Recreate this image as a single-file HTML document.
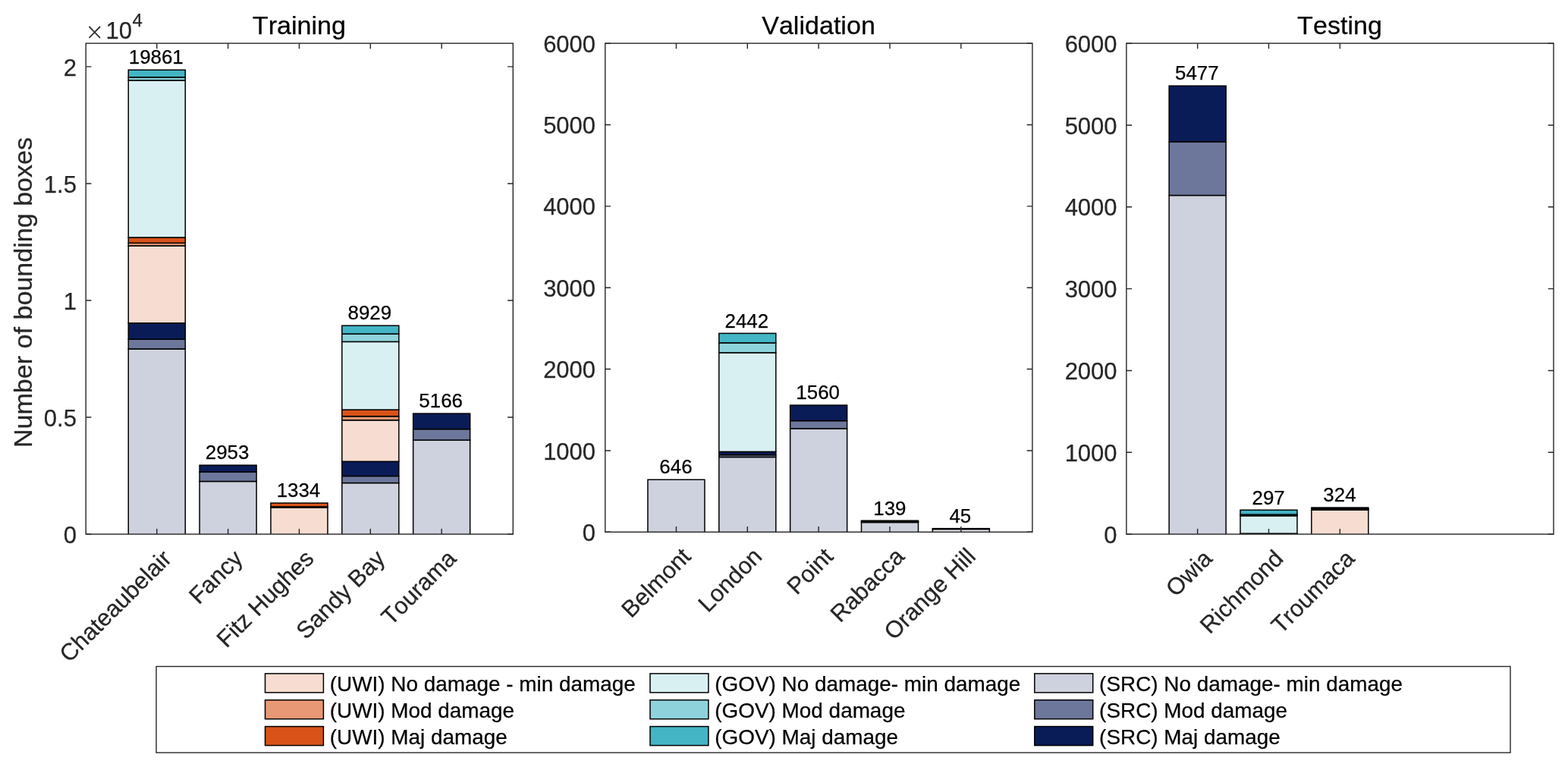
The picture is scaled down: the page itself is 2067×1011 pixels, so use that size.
<!DOCTYPE html>
<html lang="en">
<head>
<meta charset="utf-8">
<title>Number of bounding boxes: Training, Validation, Testing</title>
<style>
html,body{margin:0;padding:0;background:#fff;}
body{width:2067px;height:1011px;overflow:hidden;}
svg{display:block;}
text{white-space:pre;font-kerning:none;font-variant-ligatures:none;stroke-width:0.25px;stroke-linejoin:round;}
text[fill="#000"]{stroke:#000;}
text[fill="#262626"]{stroke:#262626;}
</style>
</head>
<body>
<svg width="2067" height="1011" viewBox="0 0 2067 1011" font-family='"Liberation Sans", sans-serif'>
<rect width="2067" height="1011" fill="#fff"/>
<path d="M169.25 704.1V459.9H244.25V704.1" fill="#CED2DE" stroke="#000" stroke-width="1.5"/>
<rect x="169.25" y="447.2" width="75" height="12.7" fill="#6C779B" stroke="#000" stroke-width="1.5"/>
<rect x="169.25" y="425.85" width="75" height="21.35" fill="#091C58" stroke="#000" stroke-width="1.5"/>
<rect x="169.25" y="323.95" width="75" height="101.9" fill="#F7DDD1" stroke="#000" stroke-width="1.5"/>
<rect x="169.25" y="320.3" width="75" height="3.65" fill="#E89875" stroke="#000" stroke-width="1.5"/>
<rect x="169.25" y="313" width="75" height="7.3" fill="#D95319" stroke="#000" stroke-width="1.5"/>
<rect x="169.25" y="105.9" width="75" height="207.1" fill="#D9F0F3" stroke="#000" stroke-width="1.5"/>
<rect x="169.25" y="101.8" width="75" height="4.1" fill="#8ED3DB" stroke="#000" stroke-width="1.5"/>
<rect x="169.25" y="92.2" width="75" height="9.6" fill="#43B5C5" stroke="#000" stroke-width="1.5"/>
<text x="205.75" y="84.45" font-size="25.9" fill="#000" text-anchor="middle">19861</text>
<path d="M263.1 704.1V634.5H338.1V704.1" fill="#CED2DE" stroke="#000" stroke-width="1.5"/>
<rect x="263.1" y="622" width="75" height="12.5" fill="#6C779B" stroke="#000" stroke-width="1.5"/>
<rect x="263.1" y="613.2" width="75" height="8.8" fill="#091C58" stroke="#000" stroke-width="1.5"/>
<text x="299.6" y="605.45" font-size="25.9" fill="#000" text-anchor="middle">2953</text>
<path d="M356.95 704.1V668.9H431.95V704.1" fill="#F7DDD1" stroke="#000" stroke-width="1.5"/>
<rect x="356.95" y="667.9" width="75" height="1" fill="#E89875" stroke="#000" stroke-width="1.5"/>
<rect x="356.95" y="663.1" width="75" height="4.8" fill="#D95319" stroke="#000" stroke-width="1.5"/>
<text x="393.45" y="655.35" font-size="25.9" fill="#000" text-anchor="middle">1334</text>
<path d="M450.8 704.1V636.6H525.8V704.1" fill="#CED2DE" stroke="#000" stroke-width="1.5"/>
<rect x="450.8" y="627.5" width="75" height="9.1" fill="#6C779B" stroke="#000" stroke-width="1.5"/>
<rect x="450.8" y="608.3" width="75" height="19.2" fill="#091C58" stroke="#000" stroke-width="1.5"/>
<rect x="450.8" y="553.8" width="75" height="54.5" fill="#F7DDD1" stroke="#000" stroke-width="1.5"/>
<rect x="450.8" y="548.7" width="75" height="5.1" fill="#E89875" stroke="#000" stroke-width="1.5"/>
<rect x="450.8" y="540.1" width="75" height="8.6" fill="#D95319" stroke="#000" stroke-width="1.5"/>
<rect x="450.8" y="450.4" width="75" height="89.7" fill="#D9F0F3" stroke="#000" stroke-width="1.5"/>
<rect x="450.8" y="440.1" width="75" height="10.3" fill="#8ED3DB" stroke="#000" stroke-width="1.5"/>
<rect x="450.8" y="429.2" width="75" height="10.9" fill="#43B5C5" stroke="#000" stroke-width="1.5"/>
<text x="487.3" y="421.45" font-size="25.9" fill="#000" text-anchor="middle">8929</text>
<path d="M544.65 704.1V580.1H619.65V704.1" fill="#CED2DE" stroke="#000" stroke-width="1.5"/>
<rect x="544.65" y="565.6" width="75" height="14.5" fill="#6C779B" stroke="#000" stroke-width="1.5"/>
<rect x="544.65" y="545.1" width="75" height="20.5" fill="#091C58" stroke="#000" stroke-width="1.5"/>
<text x="581.15" y="537.35" font-size="25.9" fill="#000" text-anchor="middle">5166</text>
<rect x="113.2" y="57.1" width="563.1" height="647" fill="none" stroke="#262626" stroke-width="1.4"/>
<path d="M206.75 704.1v-7.2M206.75 57.1v7.2M300.6 704.1v-7.2M300.6 57.1v7.2M394.45 704.1v-7.2M394.45 57.1v7.2M488.3 704.1v-7.2M488.3 57.1v7.2M582.15 704.1v-7.2M582.15 57.1v7.2M113.2 704.1h7.2M676.3 704.1h-7.2M113.2 550.05h7.2M676.3 550.05h-7.2M113.2 396h7.2M676.3 396h-7.2M113.2 241.96h7.2M676.3 241.96h-7.2M113.2 87.91h7.2M676.3 87.91h-7.2" stroke="#262626" stroke-width="1.4" fill="none"/>
<text x="100.9" y="715.7" font-size="31.0" fill="#262626" text-anchor="end">0</text>
<text x="100.9" y="561.65" font-size="31.0" fill="#262626" text-anchor="end">0.5</text>
<text x="100.9" y="407.6" font-size="31.0" fill="#262626" text-anchor="end">1</text>
<text x="100.9" y="253.56" font-size="31.0" fill="#262626" text-anchor="end">1.5</text>
<text x="100.9" y="99.51" font-size="31.0" fill="#262626" text-anchor="end">2</text>
<text x="394.4" y="45.3" font-size="34.1" fill="#000" text-anchor="middle">Training</text>
<text transform="translate(227.75 738.1) rotate(-45)" font-size="31.0" fill="#262626" text-anchor="end">Chateaubelair</text>
<text transform="translate(321.6 738.1) rotate(-45)" font-size="31.0" fill="#262626" text-anchor="end">Fancy</text>
<text transform="translate(415.45 738.1) rotate(-45)" font-size="31.0" fill="#262626" text-anchor="end">Fitz Hughes</text>
<text transform="translate(509.3 738.1) rotate(-45)" font-size="31.0" fill="#262626" text-anchor="end">Sandy Bay</text>
<text transform="translate(603.15 738.1) rotate(-45)" font-size="31.0" fill="#262626" text-anchor="end">Tourama</text>
<text x="112.3" y="52.1" font-size="29.8" font-family="'DejaVu Sans Light', 'DejaVu Sans', sans-serif" fill="#262626">×</text>
<text x="139.4" y="50.6" font-size="31.0" fill="#262626">10</text>
<text x="174.6" y="34.8" font-size="24" fill="#262626">4</text>
<text transform="translate(42 385.5) rotate(-90)" font-size="34.1" fill="#262626" text-anchor="middle">Number of bounding boxes</text>
<path d="M853.95 701.3V632.2H928.95V701.3" fill="#CED2DE" stroke="#000" stroke-width="1.5"/>
<text x="890.95" y="624.45" font-size="25.9" fill="#000" text-anchor="middle">646</text>
<path d="M947.8 701.3V602.5H1022.8V701.3" fill="#CED2DE" stroke="#000" stroke-width="1.5"/>
<rect x="947.8" y="599.6" width="75" height="2.9" fill="#6C779B" stroke="#000" stroke-width="1.5"/>
<rect x="947.8" y="595.4" width="75" height="4.2" fill="#091C58" stroke="#000" stroke-width="1.5"/>
<rect x="947.8" y="464.9" width="75" height="130.5" fill="#D9F0F3" stroke="#000" stroke-width="1.5"/>
<rect x="947.8" y="451.9" width="75" height="13" fill="#8ED3DB" stroke="#000" stroke-width="1.5"/>
<rect x="947.8" y="439.4" width="75" height="12.5" fill="#43B5C5" stroke="#000" stroke-width="1.5"/>
<text x="984.3" y="431.65" font-size="25.9" fill="#000" text-anchor="middle">2442</text>
<path d="M1041.65 701.3V564.9H1116.65V701.3" fill="#CED2DE" stroke="#000" stroke-width="1.5"/>
<rect x="1041.65" y="554.6" width="75" height="10.3" fill="#6C779B" stroke="#000" stroke-width="1.5"/>
<rect x="1041.65" y="534.1" width="75" height="20.5" fill="#091C58" stroke="#000" stroke-width="1.5"/>
<text x="1078.15" y="526.35" font-size="25.9" fill="#000" text-anchor="middle">1560</text>
<path d="M1135.5 701.3V688.55H1210.5V701.3" fill="#CED2DE" stroke="#000" stroke-width="1.5"/>
<rect x="1135.5" y="687.4" width="75" height="1.15" fill="#6C779B" stroke="#000" stroke-width="1.5"/>
<rect x="1135.5" y="686.25" width="75" height="1.15" fill="#091C58" stroke="#000" stroke-width="1.5"/>
<text x="1172.9" y="678.5" font-size="25.9" fill="#000" text-anchor="middle">139</text>
<path d="M1229.35 701.3V697.55H1304.35V701.3" fill="#E6E8EF" stroke="#000" stroke-width="1.5"/>
<rect x="1229.35" y="696.65" width="75" height="0.9" fill="#091C58" stroke="#000" stroke-width="1.5"/>
<text x="1265.85" y="688.9" font-size="25.9" fill="#000" text-anchor="middle">45</text>
<rect x="797.8" y="57.1" width="563.1" height="644.2" fill="none" stroke="#262626" stroke-width="1.4"/>
<path d="M891.45 701.3v-7.2M891.45 57.1v7.2M985.3 701.3v-7.2M985.3 57.1v7.2M1079.15 701.3v-7.2M1079.15 57.1v7.2M1173 701.3v-7.2M1173 57.1v7.2M1266.85 701.3v-7.2M1266.85 57.1v7.2M797.8 701.3h7.2M1360.9 701.3h-7.2M797.8 593.93h7.2M1360.9 593.93h-7.2M797.8 486.57h7.2M1360.9 486.57h-7.2M797.8 379.2h7.2M1360.9 379.2h-7.2M797.8 271.83h7.2M1360.9 271.83h-7.2M797.8 164.47h7.2M1360.9 164.47h-7.2M797.8 57.1h7.2M1360.9 57.1h-7.2" stroke="#262626" stroke-width="1.4" fill="none"/>
<text x="785.1" y="712.9" font-size="31.0" fill="#262626" text-anchor="end">0</text>
<text x="785.1" y="605.53" font-size="31.0" fill="#262626" text-anchor="end">1000</text>
<text x="785.1" y="498.17" font-size="31.0" fill="#262626" text-anchor="end">2000</text>
<text x="785.1" y="390.8" font-size="31.0" fill="#262626" text-anchor="end">3000</text>
<text x="785.1" y="283.43" font-size="31.0" fill="#262626" text-anchor="end">4000</text>
<text x="785.1" y="176.07" font-size="31.0" fill="#262626" text-anchor="end">5000</text>
<text x="785.1" y="68.7" font-size="31.0" fill="#262626" text-anchor="end">6000</text>
<text x="1079" y="45.3" font-size="34.1" fill="#000" text-anchor="middle">Validation</text>
<text transform="translate(912.45 735.3) rotate(-45)" font-size="31.0" fill="#262626" text-anchor="end">Belmont</text>
<text transform="translate(1006.3 735.3) rotate(-45)" font-size="31.0" fill="#262626" text-anchor="end">London</text>
<text transform="translate(1100.15 735.3) rotate(-45)" font-size="31.0" fill="#262626" text-anchor="end">Point</text>
<text transform="translate(1194 735.3) rotate(-45)" font-size="31.0" fill="#262626" text-anchor="end">Rabacca</text>
<text transform="translate(1287.85 735.3) rotate(-45)" font-size="31.0" fill="#262626" text-anchor="end">Orange Hill</text>
<path d="M1541.15 704.1V257.5H1616.15V704.1" fill="#CED2DE" stroke="#000" stroke-width="1.5"/>
<rect x="1541.15" y="186.8" width="75" height="70.7" fill="#6C779B" stroke="#000" stroke-width="1.5"/>
<rect x="1541.15" y="113.2" width="75" height="73.6" fill="#091C58" stroke="#000" stroke-width="1.5"/>
<text x="1577.85" y="105.45" font-size="25.9" fill="#000" text-anchor="middle">5477</text>
<path d="M1635 704.1V703.2H1710V704.1" fill="#CED2DE" stroke="#000" stroke-width="1.5"/>
<rect x="1635" y="679.9" width="75" height="23.3" fill="#D9F0F3" stroke="#000" stroke-width="1.5"/>
<rect x="1635" y="678.2" width="75" height="1.7" fill="#8ED3DB" stroke="#000" stroke-width="1.5"/>
<rect x="1635" y="672.3" width="75" height="5.9" fill="#43B5C5" stroke="#000" stroke-width="1.5"/>
<text x="1672.1" y="664.55" font-size="25.9" fill="#000" text-anchor="middle">297</text>
<path d="M1728.85 704.1V672.15H1803.85V704.1" fill="#F7DDD1" stroke="#000" stroke-width="1.5"/>
<rect x="1728.85" y="670.6" width="75" height="1.55" fill="#E89875" stroke="#000" stroke-width="1.5"/>
<rect x="1728.85" y="669.1" width="75" height="1.5" fill="#091C58" stroke="#000" stroke-width="1.5"/>
<text x="1765.95" y="661.35" font-size="25.9" fill="#000" text-anchor="middle">324</text>
<rect x="1484.9" y="57.1" width="563.1" height="647" fill="none" stroke="#262626" stroke-width="1.4"/>
<path d="M1578.65 704.1v-7.2M1578.65 57.1v7.2M1672.5 704.1v-7.2M1672.5 57.1v7.2M1766.35 704.1v-7.2M1766.35 57.1v7.2M1484.9 704.1h7.2M2048 704.1h-7.2M1484.9 596.27h7.2M2048 596.27h-7.2M1484.9 488.43h7.2M2048 488.43h-7.2M1484.9 380.6h7.2M2048 380.6h-7.2M1484.9 272.77h7.2M2048 272.77h-7.2M1484.9 164.93h7.2M2048 164.93h-7.2M1484.9 57.1h7.2M2048 57.1h-7.2" stroke="#262626" stroke-width="1.4" fill="none"/>
<text x="1472.6" y="715.7" font-size="31.0" fill="#262626" text-anchor="end">0</text>
<text x="1472.6" y="607.87" font-size="31.0" fill="#262626" text-anchor="end">1000</text>
<text x="1472.6" y="500.03" font-size="31.0" fill="#262626" text-anchor="end">2000</text>
<text x="1472.6" y="392.2" font-size="31.0" fill="#262626" text-anchor="end">3000</text>
<text x="1472.6" y="284.37" font-size="31.0" fill="#262626" text-anchor="end">4000</text>
<text x="1472.6" y="176.53" font-size="31.0" fill="#262626" text-anchor="end">5000</text>
<text x="1472.6" y="68.7" font-size="31.0" fill="#262626" text-anchor="end">6000</text>
<text x="1766" y="45.3" font-size="34.1" fill="#000" text-anchor="middle">Testing</text>
<text transform="translate(1599.65 738.1) rotate(-45)" font-size="31.0" fill="#262626" text-anchor="end">Owia</text>
<text transform="translate(1693.5 738.1) rotate(-45)" font-size="31.0" fill="#262626" text-anchor="end">Richmond</text>
<text transform="translate(1787.35 738.1) rotate(-45)" font-size="31.0" fill="#262626" text-anchor="end">Troumaca</text>
<rect x="206" y="878.5" width="1785" height="113.6" fill="#fff" stroke="#262626" stroke-width="1.4"/>
<rect x="349.5" y="887.85" width="76.9" height="25" fill="#F7DDD1" stroke="#000" stroke-width="1.5"/>
<text x="434.8" y="910.75" font-size="27.9" fill="#000">(UWI) No damage - min damage</text>
<rect x="349.5" y="922.7" width="76.9" height="25" fill="#E89875" stroke="#000" stroke-width="1.5"/>
<text x="434.8" y="945.6" font-size="27.9" fill="#000">(UWI) Mod damage</text>
<rect x="349.5" y="957.6" width="76.9" height="25" fill="#D95319" stroke="#000" stroke-width="1.5"/>
<text x="434.8" y="980.5" font-size="27.9" fill="#000">(UWI) Maj damage</text>
<rect x="857" y="887.85" width="76.9" height="25" fill="#D9F0F3" stroke="#000" stroke-width="1.5"/>
<text x="942.3" y="910.75" font-size="27.9" fill="#000">(GOV) No damage- min damage</text>
<rect x="857" y="922.7" width="76.9" height="25" fill="#8ED3DB" stroke="#000" stroke-width="1.5"/>
<text x="942.3" y="945.6" font-size="27.9" fill="#000">(GOV) Mod damage</text>
<rect x="857" y="957.6" width="76.9" height="25" fill="#43B5C5" stroke="#000" stroke-width="1.5"/>
<text x="942.3" y="980.5" font-size="27.9" fill="#000">(GOV) Maj damage</text>
<rect x="1363.8" y="887.85" width="76.9" height="25" fill="#CED2DE" stroke="#000" stroke-width="1.5"/>
<text x="1449.1" y="910.75" font-size="27.9" fill="#000">(SRC) No damage- min damage</text>
<rect x="1363.8" y="922.7" width="76.9" height="25" fill="#6C779B" stroke="#000" stroke-width="1.5"/>
<text x="1449.1" y="945.6" font-size="27.9" fill="#000">(SRC) Mod damage</text>
<rect x="1363.8" y="957.6" width="76.9" height="25" fill="#091C58" stroke="#000" stroke-width="1.5"/>
<text x="1449.1" y="980.5" font-size="27.9" fill="#000">(SRC) Maj damage</text>
</svg>
</body>
</html>
